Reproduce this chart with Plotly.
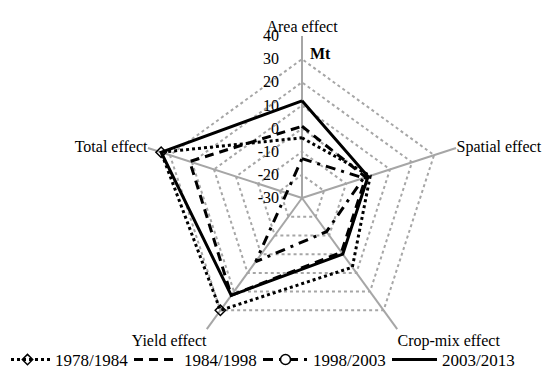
import plotly.graph_objects as go

categories = ["Area effect", "Spatial effect", "Crop-mix effect", "Yield effect", "Total effect"]
series_names = ["1978/1984", "1984/1998", "1998/2003", "2003/2013"]
v_1978_1984 = [-4, 1, 7, 30, 34]
v_1984_1998 = [1, -1, -1, 22, 21]
v_1998_2003 = [-13, -2, -12, 4, -23]
v_2003_2013 = [12, 0, 0, 22, 34]
radial_ticks = [-30, -20, -10, 0, 10, 20, 30, 40]

FONT = "Liberation Serif"
PAD = "\u00a0" * 5

def closed(vals):
    return list(vals) + [vals[0]]

cats_closed = categories + [categories[0]]

fig = go.Figure()
fig.add_trace(go.Scatterpolar(
    r=closed(v_1978_1984), theta=cats_closed, name=series_names[0], mode="lines+markers",
    line=dict(color="black", width=3, dash="dot"),
    marker=dict(symbol="diamond-open", size=8, color="black", line=dict(width=1.5)),
))
fig.add_trace(go.Scatterpolar(
    r=closed(v_1984_1998), theta=cats_closed, name=series_names[1], mode="lines",
    line=dict(color="black", width=3, dash="9px,6px"),
))
fig.add_trace(go.Scatterpolar(
    r=closed(v_1998_2003), theta=cats_closed, name=series_names[2], mode="lines+markers",
    line=dict(color="black", width=3, dash="10px,6px,3px,6px"),
    marker=dict(symbol="circle", size=10, color="white", line=dict(width=1.5, color="black")),
))
fig.add_trace(go.Scatterpolar(
    r=closed(v_2003_2013), theta=cats_closed, name=series_names[3], mode="lines",
    line=dict(color="black", width=3),
))

fig.update_layout(
    width=550, height=374,
    margin=dict(l=0, r=0, t=0, b=0, autoexpand=False),
    paper_bgcolor="white",
    font=dict(family=FONT, size=17, color="black"),
    polar=dict(
        domain=dict(x=[132/550, 456/550], y=[1-352/374, 1-28/374]),
        gridshape="linear",
        bgcolor="white",
        angularaxis=dict(
            direction="clockwise", rotation=90,
            showline=False, gridcolor="#a6a6a6", gridwidth=1.5,
            ticks="", tickfont=dict(family=FONT, size=16, color="black"),
        ),
        radialaxis=dict(
            range=[-30, 40], tickvals=radial_ticks, ticktext=[str(t) + PAD for t in radial_ticks],
            angle=90, tickangle=90, showline=False, ticks="",
            gridcolor="#a6a6a6", gridwidth=1.5, griddash="dot",
            tickfont=dict(family=FONT, size=16, color="black"),
            side="counterclockwise",
        ),
    ),
    legend=dict(
        orientation="h", x=0, xanchor="left", y=1-352/374, yanchor="middle",
        font=dict(family=FONT, size=17, color="black"),
        bgcolor="rgba(0,0,0,0)", indentation=-8,
        itemwidth=45, entrywidth=77, tracegroupgap=0,
    ),
    showlegend=True,
    annotations=[dict(text="<b>Mt</b>", x=312/550, y=1-45/374, xref="paper", yref="paper",
                      xanchor="center", yanchor="middle",
                      showarrow=False, font=dict(family=FONT, size=16, color="black"))],
)

fig.write_html("out.html")
